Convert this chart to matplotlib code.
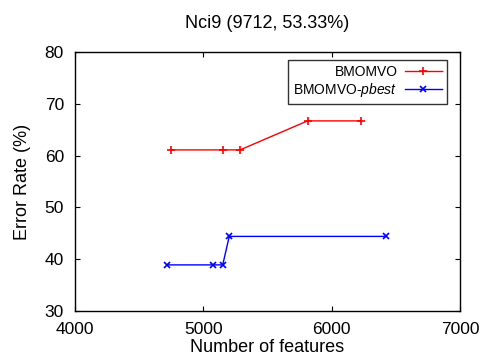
import matplotlib
matplotlib.use('Agg')
import matplotlib.pyplot as plt

### Data
bmomvo_x = [4748, 5151, 5286, 5812, 6229]
bmomvo_y = [61.1, 61.1, 61.1, 66.7, 66.7]
pbest_x = [4719, 5073, 5151, 5202, 6421]
pbest_y = [38.9, 38.9, 38.9, 44.4, 44.4]
x_ticks = [4000, 5000, 6000, 7000]
y_ticks = [30, 40, 50, 60, 70, 80]
###

plt.rcParams['font.family'] = ['Liberation Sans', 'DejaVu Sans']
plt.rcParams['mathtext.fontset'] = 'custom'
plt.rcParams['mathtext.rm'] = 'Liberation Sans'
plt.rcParams['mathtext.it'] = 'Liberation Sans:italic'

fig = plt.figure(figsize=(4.85, 3.58), dpi=100)
ax = fig.add_axes([75 / 485, 1 - 311 / 358, 385 / 485, 259 / 358])

ax.plot(bmomvo_x, bmomvo_y, color='red', lw=1, marker='+', ms=6, mew=1.2,
        label='BMOMVO')
ax.plot(pbest_x, pbest_y, color='blue', lw=1, marker='x', ms=5, mew=1.2,
        label='BMOMVO-$\\mathit{pbest}$')

ax.set_xlim(4000, 7000)
ax.set_ylim(30, 80)
ax.set_xticks(x_ticks)
ax.set_yticks(y_ticks)
ax.tick_params(direction='in', top=True, right=True, labelsize=12.5,
               length=3.5, pad=8)
for s in ax.spines.values():
    s.set_linewidth(1)
ax.set_xlabel("Number of features", fontsize=13, labelpad=1)
ax.set_ylabel("Error Rate (%)", fontsize=13, labelpad=10)
ax.set_title("Nci9 (9712, 53.33%)", fontsize=13, pad=17)

leg = ax.legend(loc='upper right', markerfirst=False, fontsize=10,
                frameon=True, fancybox=False, edgecolor='black',
                handlelength=2.7, handletextpad=0.5, borderpad=0.35,
                labelspacing=0.15, borderaxespad=0,
                bbox_to_anchor=(0.966, 0.969))
leg.get_frame().set_linewidth(1)

plt.savefig("out.png", dpi=100)
